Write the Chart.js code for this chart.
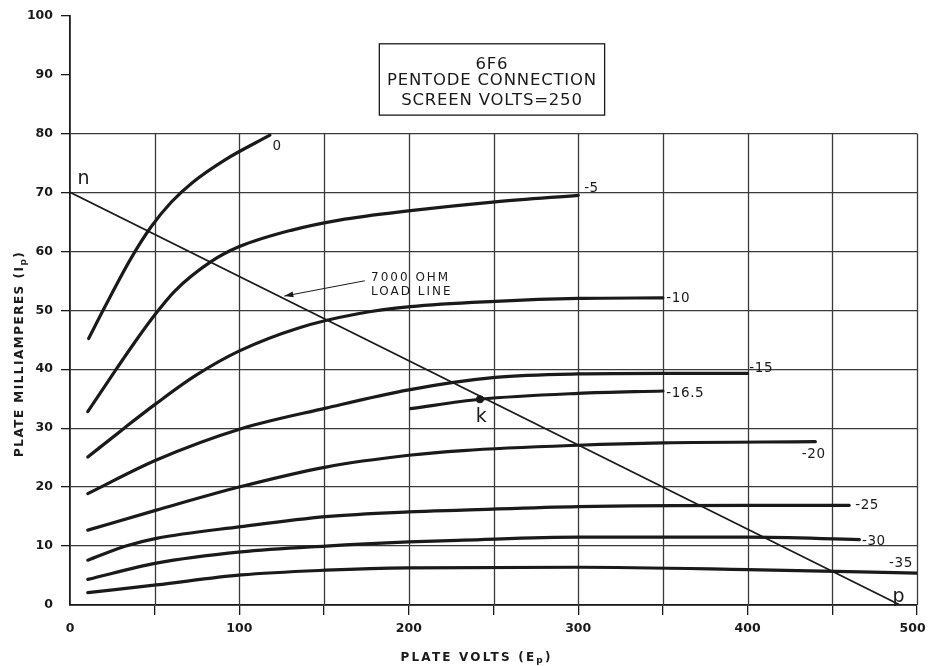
<!DOCTYPE html>
<html lang="en">
<head>
<meta charset="UTF-8">
<title>6F6 Pentode Plate Characteristics</title>
<script src="https://cdn.jsdelivr.net/npm/chart.js"></script>
<style>
  html, body { margin: 0; padding: 0; background: #fff; }
</style>
</head>
<body>
<canvas id="plateChart" width="928" height="666"></canvas>
<script>
// plate volts (Ep) and plate milliamperes (Ip)
const ep0    = [11, 21, 36, 48, 60, 72, 92, 118];
const ip0    = [45.2, 50.8, 58.8, 64.2, 68.4, 71.6, 75.6, 79.7];
const ep5    = [10.5, 28, 40, 50, 62, 83, 100, 131, 159, 201, 251, 300];
const ip5    = [32.8, 40.3, 45.3, 49.2, 53.3, 58.2, 60.8, 63.6, 65.3, 66.9, 68.4, 69.5];
const ep10   = [10.5, 32, 51, 74, 100, 135, 170, 201, 251, 300, 350];
const ip10   = [25.1, 30, 34.2, 38.9, 43.1, 47, 49.4, 50.6, 51.5, 52, 52.1];
const ep15   = [10.5, 51, 101, 151, 200, 251, 300, 350, 400];
const ip15   = [18.9, 24.6, 29.9, 33.4, 36.5, 38.6, 39.2, 39.3, 39.3];
const ep16_5 = [201, 242, 300, 350];
const ip16_5 = [33.3, 34.9, 35.9, 36.3];
const ep20   = [10.5, 51, 101, 151, 200, 232, 300, 350, 440];
const ip20   = [12.7, 16.1, 20.1, 23.4, 25.4, 26.2, 27.1, 27.5, 27.7];
const ep25   = [10.5, 33, 51, 101, 151, 200, 232, 300, 400, 460];
const ip25   = [7.6, 10, 11.3, 13.3, 15, 15.8, 16.1, 16.7, 16.9, 16.9];
const ep30   = [10.5, 51, 101, 151, 200, 232, 300, 400, 466];
const ip30   = [4.35, 7.1, 9.0, 10, 10.7, 11, 11.5, 11.5, 11.1];
const ep35   = [10.5, 51, 101, 151, 200, 300, 400, 500];
const ip35   = [2.1, 3.4, 5.1, 5.9, 6.3, 6.4, 6.0, 5.4];

// 7000 ohm load line n-p and the operating point k
const loadEp = [0, 490];
const loadIp = [70, 0];
const kEp = [242];
const kIp = [34.9];

const biasNames = ['0', '-5', '-10', '-15', '-16.5', '-20', '-25', '-30', '-35'];
const titleLines = ['6F6', 'PENTODE CONNECTION', 'SCREEN VOLTS=250'];
const xLabelEvery = 100;   // ticks every 50, numbers every 100
const gridTop = 80;        // grid stops at 80 mA, axis runs on to 100

const ink = '#1a1a1a';
const gridInk = '#3a3a3a';
const FONT = 'DejaVu Sans';

function pts(xs, ys) { return xs.map((v, i) => ({ x: v, y: ys[i] })); }

function curve(xs, ys) {
  return {
    data: pts(xs, ys),
    showLine: true,
    borderColor: ink,
    borderWidth: 3.2,
    pointRadius: 0,
    cubicInterpolationMode: 'monotone',
    borderCapStyle: 'round'
  };
}

const curves = [
  [ep0, ip0], [ep5, ip5], [ep10, ip10], [ep15, ip15], [ep16_5, ip16_5],
  [ep20, ip20], [ep25, ip25], [ep30, ip30], [ep35, ip35]
];

// where the annotations sit, in volts / mA
const curveTagAt = [
  [119.5, 77.8], [303.5, 70.6], [352, 52], [401, 40.2], [352, 35.9],
  [432, 25.6], [463.5, 16.8], [467.5, 10.8], [483.5, 7.0]
];
const letterTags = [
  { t: 'n', at: [4.5, 72.2] },
  { t: 'k', at: [239.5, 31.9] },
  { t: 'p', at: [485.5, 1.4] }
];
const arrowFrom = [174, 55];
const arrowTo = [126.5, 52.4];
const boxCorners = [[182.6, 95.2], [315.6, 83.1]];

function drawText(ctx, str, px, py, font, align, spacing) {
  ctx.font = font + ' "' + FONT + '"';
  ctx.letterSpacing = (spacing || 0) + 'px';
  ctx.textAlign = align || 'left';
  ctx.textBaseline = 'middle';
  ctx.fillText(str, px, py);
}

// text made of runs, where some runs are lowered subscripts
function drawRuns(ctx, runs, cx, cy, size, spacing, weight) {
  const w = weight ? weight + ' ' : '';
  ctx.letterSpacing = spacing + 'px';
  ctx.textBaseline = 'middle';
  ctx.textAlign = 'left';
  let total = 0;
  runs.forEach(r => {
    ctx.font = w + (r.sub ? size * 0.75 : size) + 'px "' + FONT + '"';
    r.w = ctx.measureText(r.t).width;
    total += r.w;
  });
  let x = cx - total / 2;
  runs.forEach(r => {
    ctx.font = w + (r.sub ? size * 0.75 : size) + 'px "' + FONT + '"';
    ctx.fillText(r.t, x, cy + (r.sub ? size * 0.3 : 0));
    x += r.w;
  });
}

const decor = {
  id: 'decor',
  beforeDatasetsDraw(chart) {
    const { ctx, scales: { x, y } } = chart;
    const top = y.getPixelForValue(gridTop);
    const bottom = y.getPixelForValue(0);
    ctx.save();
    ctx.strokeStyle = gridInk;
    ctx.lineWidth = 1.3;
    x.ticks.forEach(t => {
      if (t.value === 0) return;
      const px = Math.round(x.getPixelForValue(t.value)) + 0.5;
      ctx.beginPath();
      ctx.moveTo(px, top);
      ctx.lineTo(px, bottom);
      ctx.stroke();
    });
    ctx.restore();
  },
  afterDatasetsDraw(chart) {
    const { ctx, scales: { x, y } } = chart;
    const X = v => x.getPixelForValue(v);
    const Y = v => y.getPixelForValue(v);
    ctx.save();
    ctx.fillStyle = ink;
    ctx.strokeStyle = ink;

    // bias labels at the curve ends
    biasNames.forEach((name, i) => {
      drawText(ctx, name, X(curveTagAt[i][0]), Y(curveTagAt[i][1]), '13.5px', 'left', 0.6);
    });
    letterTags.forEach(l => {
      drawText(ctx, l.t, X(l.at[0]), Y(l.at[1]), '19px', 'left', 0);
    });

    // load line note and arrow
    drawText(ctx, '7000 OHM', X(177.7), Y(55.5), '12px', 'left', 2);
    drawText(ctx, 'LOAD LINE', X(177.7), Y(53.1), '12px', 'left', 2);
    const ax = X(arrowTo[0]), ay = Y(arrowTo[1]);
    const ang = Math.atan2(ay - Y(arrowFrom[1]), ax - X(arrowFrom[0]));
    ctx.beginPath();
    ctx.moveTo(ax, ay);
    ctx.lineTo(ax - 9 * Math.cos(ang) + 3 * Math.sin(ang), ay - 9 * Math.sin(ang) - 3 * Math.cos(ang));
    ctx.lineTo(ax - 9 * Math.cos(ang) - 3 * Math.sin(ang), ay - 9 * Math.sin(ang) + 3 * Math.cos(ang));
    ctx.closePath();
    ctx.fill();

    // title box
    const bx0 = X(boxCorners[0][0]), by0 = Y(boxCorners[0][1]);
    const bx1 = X(boxCorners[1][0]), by1 = Y(boxCorners[1][1]);
    ctx.lineWidth = 1.3;
    ctx.strokeRect(bx0, by0, bx1 - bx0, by1 - by0);
    const cx = (bx0 + bx1) / 2;
    const lineYs = [91.6, 88.9, 85.6];
    titleLines.forEach((s, i) => drawText(ctx, s, cx, Y(lineYs[i]), '16.5px', 'center', 0.8));

    // axis titles with subscript p
    drawRuns(ctx, [{ t: 'PLATE VOLTS (E' }, { t: 'p', sub: true }, { t: ')' }],
      X(240), chart.height - 8.5, 12, 2.2, 'bold');
    ctx.save();
    ctx.translate(20, Y(42.6));
    ctx.rotate(-Math.PI / 2);
    drawRuns(ctx, [{ t: 'PLATE MILLIAMPERES (I' }, { t: 'p', sub: true }, { t: ')' }],
      0, 0, 12, 1.5, 'bold');
    ctx.restore();

    ctx.restore();
  }
};

const datasets = curves.map(c => curve(c[0], c[1]));
datasets.push({
  data: pts(loadEp, loadIp), showLine: true, borderColor: ink,
  borderWidth: 1.7, pointRadius: 0
});
datasets.push({
  data: pts([arrowFrom[0], arrowTo[0]], [arrowFrom[1], arrowTo[1]]),
  showLine: true, borderColor: ink, borderWidth: 1, pointRadius: 0
});
datasets.push({
  data: pts(kEp, kIp), showLine: false, pointRadius: 3.6,
  pointBackgroundColor: ink, pointBorderColor: ink
});

const tickInk = c => (c.tick && c.tick.value === 0 ? 'rgba(0,0,0,0)' : ink);

new Chart(document.getElementById('plateChart'), {
  type: 'scatter',
  data: { datasets },
  plugins: [decor],
  options: {
    responsive: false,
    animation: false,
    layout: { padding: { top: 15, right: 11, left: 0, bottom: 0 } },
    plugins: { legend: { display: false }, tooltip: { enabled: false } },
    scales: {
      x: {
        type: 'linear', min: 0, max: 500,
        afterFit(scale) {
          scale.height = 61;
          scale.paddingLeft = 0;
          scale.paddingRight = 0;
        },
        border: { display: true, color: ink, width: 1.8 },
        grid: { color: 'rgba(0,0,0,0)', tickColor: tickInk, tickLength: 10, lineWidth: 1.3 },
        ticks: {
          stepSize: 50, autoSkip: false, maxRotation: 0, padding: 6,
          color: ink, font: { family: FONT, size: 12.5, weight: 'bold' },
          // last number sits a little inside the right edge, as on the sheet
          callback: v => (v % xLabelEvery !== 0 ? '' : (v === 500 ? v + '\u2007' : String(v)))
        }
      },
      y: {
        type: 'linear', min: 0, max: 100,
        afterFit(scale) { scale.width = 70; },
        border: { display: true, color: ink, width: 1.8 },
        grid: {
          color: c => (c.tick && c.tick.value <= gridTop ? gridInk : 'rgba(0,0,0,0)'),
          tickColor: tickInk, tickLength: 9, lineWidth: 1.3
        },
        ticks: {
          stepSize: 10, padding: 8, color: ink,
          font: { family: FONT, size: 12.5, weight: 'bold' }
        }
      }
    }
  }
});
</script>
</body>
</html>
